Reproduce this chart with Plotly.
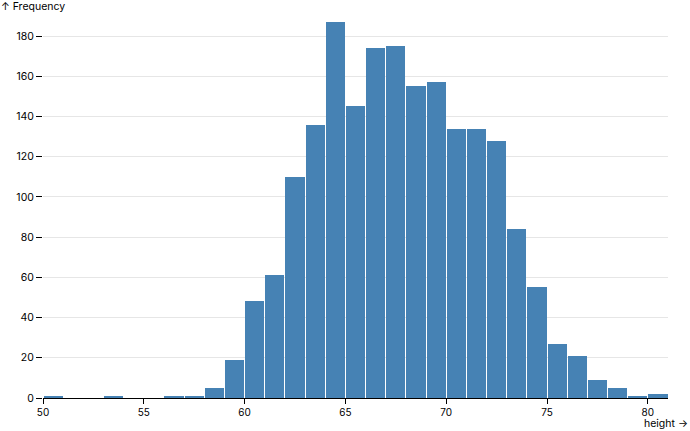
import plotly.graph_objects as go

bin_starts = list(range(50, 81))
counts = [1, 0, 0, 1, 0, 0, 1, 1, 5, 19, 48, 61, 110, 136, 187, 145, 174, 175,
          155, 157, 134, 134, 128, 84, 55, 27, 21, 9, 5, 1, 2]
x_ticks = [50, 55, 60, 65, 70, 75, 80]
y_ticks = [0, 20, 40, 60, 80, 100, 120, 140, 160, 180]

W, H = 690, 431
ml, mr, mt, mb = 43, 22, 22, 33
pw, ph = W - ml - mr, H - mt - mb

fig = go.Figure(go.Bar(
    x=[b + 0.5 for b in bin_starts], y=counts, width=0.95,
    marker=dict(color="#4682b4", line=dict(width=0)),
    hoverinfo="x+y",
))

font = "Inter, 'Noto Sans', sans-serif"
fig.update_layout(
    width=W, height=H,
    margin=dict(l=ml, r=mr, t=mt, b=mb, pad=0, autoexpand=False),
    plot_bgcolor="white", paper_bgcolor="white",
    font=dict(family=font, size=10, color="black"),
    showlegend=False, bargap=0,
    xaxis=dict(range=[50, 81], tickvals=x_ticks, ticks="outside", ticklen=5,
               tickcolor="black", showline=True, linecolor="black", linewidth=1,
               showgrid=False, zeroline=False, tickfont=dict(size=10),
               automargin=False),
    yaxis=dict(range=[0, 187], tickvals=y_ticks, ticks="outside", ticklen=6,
               tickcolor="black", showline=False, showgrid=True,
               gridcolor="#e6e6e6", gridwidth=1, zeroline=False,
               tickfont=dict(size=10.5), automargin=False),
    annotations=[
        dict(text="↑ Frequency", xref="paper", yref="paper",
             x=-ml / pw, y=1 + 15 / ph, xanchor="left", yanchor="middle",
             showarrow=False, borderpad=0, font=dict(size=10.5)),
        dict(text="height →", xref="paper", yref="paper",
             x=(689 - ml) / pw, y=-33 / ph, xanchor="right", yanchor="bottom",
             showarrow=False, borderpad=0, font=dict(size=10.5)),
    ],
)

fig.write_html("out.html", config={"displayModeBar": False},
               post_script="document.body.style.margin='0';")
